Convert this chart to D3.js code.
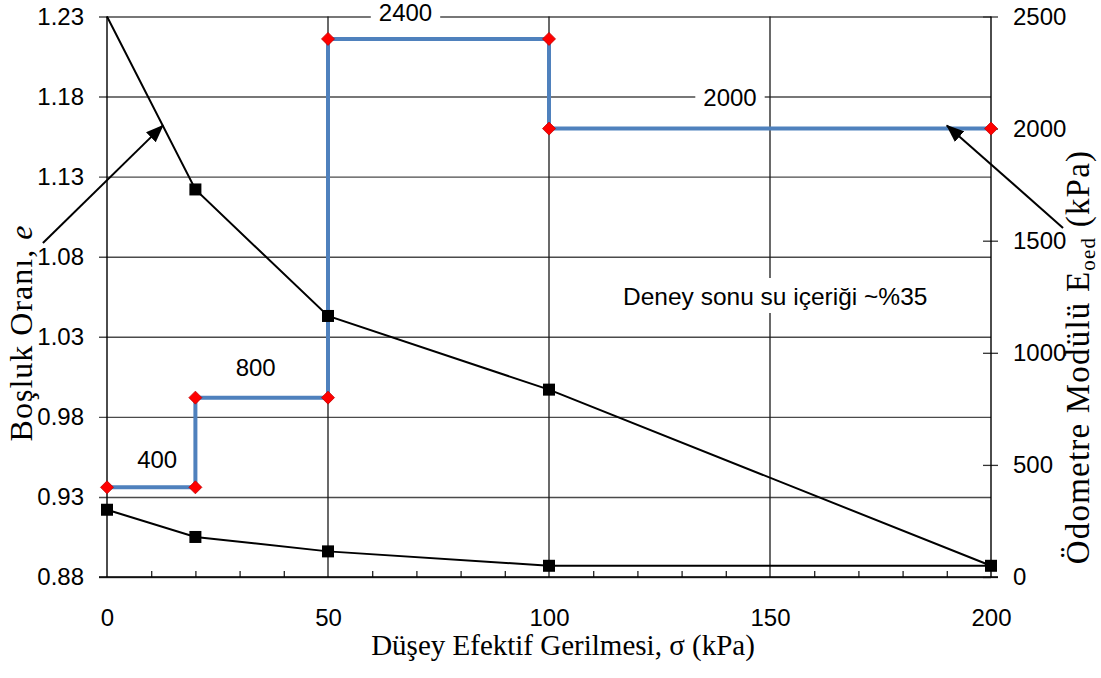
<!DOCTYPE html>
<html>
<head>
<meta charset="utf-8">
<script src="https://cdn.jsdelivr.net/npm/d3@7"></script>
<style>
  body { margin: 0; background: #fff; }
  svg { display: block; }
</style>
</head>
<body>
<svg id="chart" width="1101" height="678"></svg>
<script>
// Oedometer test: vertical effective stress path (kPa), loading then unloading
const stressPath = [0, 20, 50, 100, 200, 100, 50, 20, 0];
// Void ratio e measured along the stress path
const voidRatio = [1.23, 1.122, 1.043, 0.997, 0.887, 0.887, 0.896, 0.905, 0.922];

// Oedometer modulus E_oed as a step function of stress
const stepStress = [0, 20, 20, 50, 50, 100, 100, 200];
const stepModulus = [400, 400, 800, 800, 2400, 2400, 2000, 2000];

// Modulus per loading interval (used for the interval labels)
const intervalFrom = [0, 20, 50, 100];
const intervalTo = [20, 50, 100, 200];
const intervalModulus = [400, 800, 2400, 2000];

// Axis ticks
const xTicks = [0, 50, 100, 150, 200];
const leftTicks = [0.88, 0.93, 0.98, 1.03, 1.08, 1.13, 1.18, 1.23];
const rightTicks = [0, 500, 1000, 1500, 2000, 2500];

const note = "Deney sonu su içeriği ~%35";

const svg = d3.select("#chart");
const sans = "'Liberation Sans', Arial, sans-serif";
const serif = "'Liberation Serif', 'Times New Roman', serif";

const plot = { left: 107, right: 991, top: 16.5, bottom: 577 };

const x = d3.scaleLinear().domain([0, 200]).range([plot.left, plot.right]);
const yL = d3.scaleLinear().domain([0.88, 1.23]).range([plot.bottom, plot.top]);
const yR = d3.scaleLinear().domain([0, 2500]).range([plot.bottom, plot.top]);

// arrowhead marker
svg.append("defs").append("marker")
  .attr("id", "arrowhead")
  .attr("markerUnits", "userSpaceOnUse")
  .attr("viewBox", "0 0 18 14")
  .attr("refX", 17).attr("refY", 7)
  .attr("markerWidth", 18).attr("markerHeight", 14)
  .attr("orient", "auto")
  .append("path")
  .attr("d", "M0,0 L18,7 L0,14 Z")
  .attr("fill", "#000");

// ---- Left axis with horizontal gridlines ----
const leftAxis = svg.append("g")
  .attr("transform", `translate(${plot.left},0)`)
  .call(d3.axisLeft(yL)
    .tickValues(leftTicks)
    .tickFormat(d3.format(".2f"))
    .tickSizeInner(-(plot.right - plot.left))
    .tickSizeOuter(0)
    .tickPadding(23));
leftAxis.select(".domain").remove();
leftAxis.selectAll(".tick line")
  .attr("x1", -8)
  .attr("stroke", "#4a4a4a")
  .attr("stroke-width", 1.4);
leftAxis.selectAll(".tick text")
  .attr("font-family", sans).attr("font-size", 24).attr("fill", "#000");

// ---- Vertical gridlines at major stress ticks ----
svg.append("g").selectAll("line")
  .data(xTicks.filter(d => d > 0 && d < 200))
  .join("line")
  .attr("x1", d => x(d)).attr("x2", d => x(d))
  .attr("y1", plot.top).attr("y2", plot.bottom)
  .attr("stroke", "#1a1a1a").attr("stroke-width", 1.3);

// ---- Right axis (crossing ticks) ----
const rightAxis = svg.append("g")
  .attr("transform", `translate(${plot.right},0)`)
  .call(d3.axisRight(yR)
    .tickValues(rightTicks)
    .tickFormat(d3.format("d"))
    .tickSizeInner(7)
    .tickSizeOuter(0)
    .tickPadding(15));
rightAxis.select(".domain").remove();
rightAxis.selectAll(".tick line")
  .attr("x1", -8)
  .attr("stroke", "#333").attr("stroke-width", 1.3);
rightAxis.selectAll(".tick text")
  .attr("font-family", sans).attr("font-size", 24).attr("fill", "#000");

// ---- Bottom axis: labels, minor ticks ----
const bottomAxis = svg.append("g")
  .attr("transform", `translate(0,${plot.bottom})`)
  .call(d3.axisBottom(x)
    .tickValues(xTicks)
    .tickSize(0)
    .tickPadding(32));
bottomAxis.select(".domain").remove();
bottomAxis.selectAll(".tick text")
  .attr("font-family", sans).attr("font-size", 24).attr("fill", "#000");

const minorAxis = svg.append("g")
  .attr("transform", `translate(0,${plot.bottom})`)
  .call(d3.axisBottom(x)
    .tickValues(d3.range(10, 200, 10).filter(d => d % 50 !== 0))
    .tickSizeInner(-6)
    .tickSizeOuter(0)
    .tickFormat(""));
minorAxis.select(".domain").remove();
minorAxis.selectAll(".tick line").attr("stroke", "#222").attr("stroke-width", 1.3);

// ---- Frame: axis lines ----
svg.append("line")
  .attr("x1", plot.left).attr("x2", plot.left)
  .attr("y1", plot.top).attr("y2", plot.bottom)
  .attr("stroke", "#000").attr("stroke-width", 1.4);
svg.append("line")
  .attr("x1", plot.right).attr("x2", plot.right)
  .attr("y1", plot.top).attr("y2", plot.bottom)
  .attr("stroke", "#000").attr("stroke-width", 1.4);
svg.append("line")
  .attr("x1", plot.left - 8).attr("x2", plot.right + 7)
  .attr("y1", plot.bottom).attr("y2", plot.bottom)
  .attr("stroke", "#000").attr("stroke-width", 1.4);

// ---- Void ratio curve ----
const eData = stressPath.map((s, i) => ({ s, e: voidRatio[i], i }));
svg.append("path")
  .datum(eData)
  .attr("fill", "none")
  .attr("stroke", "#000")
  .attr("stroke-width", 2)
  .attr("d", d3.line().x(d => x(d.s)).y(d => yL(d.e)));

// ---- Oedometer modulus step line ----
const mData = stepStress.map((s, i) => ({ s, m: stepModulus[i] }));
svg.append("path")
  .datum(mData)
  .attr("fill", "none")
  .attr("stroke", "#4f81bd")
  .attr("stroke-width", 4)
  .attr("d", d3.line().x(d => x(d.s)).y(d => yR(d.m)));

// void ratio markers (initial state is drawn without a marker)
const sq = 12;
svg.append("g").selectAll("rect")
  .data(eData.filter(d => d.i > 0))
  .join("rect")
  .attr("x", d => x(d.s) - sq / 2)
  .attr("y", d => yL(d.e) - sq / 2)
  .attr("width", sq).attr("height", sq)
  .attr("fill", "#000");

// modulus markers: red diamonds
svg.append("g").selectAll("path")
  .data(mData)
  .join("path")
  .attr("transform", d => `translate(${x(d.s)},${yR(d.m)})`)
  .attr("d", "M0,-6.5 L6.5,0 L0,6.5 L-6.5,0 Z")
  .attr("fill", "#ff0000")
  .attr("stroke", "#c00000")
  .attr("stroke-width", 0.8);

// ---- Interval labels for the modulus ----
const labelShift = [[6, -28], [-6, -30], [-33, -27], [-40, -31]];
const labels = svg.append("g");
intervalModulus.forEach((m, i) => {
  const cx = x((intervalFrom[i] + intervalTo[i]) / 2) + labelShift[i][0];
  const cy = yR(m) + labelShift[i][1];
  const g = labels.append("g");
  const t = g.append("text")
    .attr("x", cx).attr("y", cy)
    .attr("dy", "0.36em")
    .attr("text-anchor", "middle")
    .attr("font-family", sans).attr("font-size", 24)
    .attr("fill", "#000")
    .text(m);
  const bb = t.node().getBBox();
  g.insert("rect", "text")
    .attr("x", bb.x - 8).attr("y", cy - 12)
    .attr("width", bb.width + 16).attr("height", 24)
    .attr("fill", "#fff");
});

// ---- Note: water content at end of test ----
const noteG = svg.append("g");
const noteText = noteG.append("text")
  .attr("x", 623).attr("y", 305)
  .attr("font-family", sans).attr("font-size", 24.5)
  .attr("fill", "#000")
  .text(note);
const nb = noteText.node().getBBox();
noteG.insert("rect", "text")
  .attr("x", nb.x - 6).attr("y", 278)
  .attr("width", nb.width + 12).attr("height", 35)
  .attr("fill", "#fff");

// ---- Pointer arrows (to each curve) ----
const arrows = [
  { from: [-14.5, 1.0886], to: [12.67, 1.162] },
  { from: [216.3, 1.098], to: [190.0, 1.162] }
];
svg.append("g").selectAll("line")
  .data(arrows)
  .join("line")
  .attr("x1", d => x(d.from[0])).attr("y1", d => yL(d.from[1]))
  .attr("x2", d => x(d.to[0])).attr("y2", d => yL(d.to[1]))
  .attr("stroke", "#000").attr("stroke-width", 2)
  .attr("marker-end", "url(#arrowhead)");

// ---- Axis titles ----
svg.append("text")
  .attr("x", 563).attr("y", 655)
  .attr("text-anchor", "middle")
  .attr("font-family", serif).attr("font-size", 29)
  .attr("fill", "#000")
  .text("Düşey Efektif Gerilmesi, σ (kPa)");

const lt = svg.append("text")
  .attr("transform", "translate(32,333) rotate(-90)")
  .attr("text-anchor", "middle")
  .attr("font-family", serif).attr("font-size", 32)
  .attr("letter-spacing", 1)
  .attr("fill", "#000");
lt.append("tspan").text("Boşluk Oranı, ");
lt.append("tspan").attr("font-style", "italic").text("e");

const rt = svg.append("text")
  .attr("transform", "translate(1089,357) rotate(-90)")
  .attr("text-anchor", "middle")
  .attr("font-family", serif).attr("font-size", 33)
  .attr("letter-spacing", 1.2)
  .attr("fill", "#000");
rt.append("tspan").text("Ödometre Modülü E");
rt.append("tspan").attr("font-size", 21).attr("dy", 6).text("oed");
rt.append("tspan").attr("dy", -6).text(" (kPa)");
</script>
</body>
</html>
